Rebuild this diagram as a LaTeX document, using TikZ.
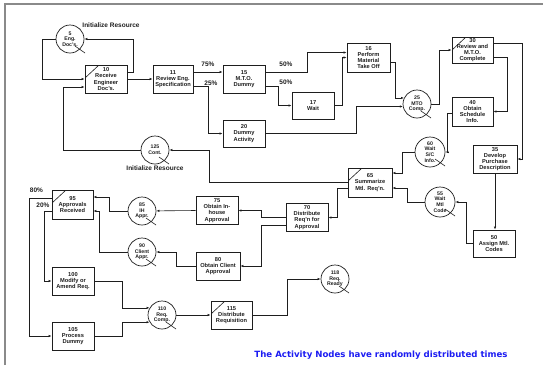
\documentclass[tikz,border=0pt]{standalone}
\usepackage{fontspec}
\setmainfont{Liberation Sans}
\newfontfamily\notefont{DejaVu Sans}
\usepackage{tikz}
\usetikzlibrary{positioning,arrows.meta,calc}
\definecolor{cInk}{HTML}{1E1E1E}
\definecolor{cFrame}{HTML}{8A8A8A}
\definecolor{cNote}{HTML}{1C1CF2}

\begin{document}
\begin{tikzpicture}[
  x=1pt, y=-1pt,
  font=\fontsize{5.7}{6.1}\selectfont\bfseries,
  >={Latex[length=3pt,width=2.4pt]},
  box/.style={draw=cInk, line width=0.7pt, align=center, inner sep=0pt,
              minimum width=42pt, minimum height=28pt, text=cInk},
  gate/.style={box, path picture={\draw[cInk, line width=0.6pt]
              ([yshift=-13pt]path picture bounding box.north west) --
              ([xshift=14pt]path picture bounding box.north west);}},
  qnode/.style={circle, draw=cInk, line width=0.7pt, align=center, inner sep=0pt,
              minimum size=28pt, text=cInk, font=\fontsize{5.2}{5.7}\selectfont\bfseries},
  flow/.style={->, draw=cInk, line width=0.6pt},
  slash/.style={draw=cInk, line width=0.6pt},
  pct/.style={font=\fontsize{6.5}{7}\selectfont\bfseries, text=cInk},
  tag/.style={font=\fontsize{6.5}{7}\selectfont\bfseries, text=cInk},
  note/.style={font=\notefont\fontsize{8.6}{9}\selectfont\bfseries, text=cNote},
]
\useasboundingbox (0,0) rectangle (543,365);
% ---- frame
\draw[cFrame, line width=2.2pt] (5,365) -- (5,4) -- (543,4);

% ---- engineering docs and specification
\node[qnode] (engdocs) at (70,39) {5\\Eng.\\Doc's.};
\node[tag] (initA) at (111,25) {Initialize Resource};
\node[gate] (receive) at (106,79) {10\\Receive\\Engineer\\Doc's.};
\node[box, minimum width=40pt] (spec) at (173,79) {11\\Review Eng.\\Specification};
\node[box] (mto) at (244,79) {15\\M.T.O.\\Dummy};
\node[box, minimum width=43pt, minimum height=29pt] (takeoff) at (368.5,57.5) {16\\Perform\\Material\\Take Off};
\node[box, minimum height=27pt] (waitact) at (313,105.5) {17\\Wait};
\node[box, minimum height=27pt] (dummy) at (244,133.5) {20\\Dummy\\Activity};
\node[qnode] (mtocomp) at (417,104) {25\\MTO\\Comp.};
\node[gate, minimum width=41pt, minimum height=26pt] (mtorev) at (472.5,50) {30\\Review and\\M.T.O.\\Complete};
\node[box, minimum width=41pt, minimum height=29pt] (sched) at (472.5,111.5) {40\\Obtain\\Schedule\\Info.};
\node[box, minimum width=44pt] (purch) at (495,159) {35\\Develop\\Purchase\\Description};
\node[box, minimum height=27pt] (codes) at (494,243.5) {50\\Assign Mtl.\\Codes};
\node[qnode, minimum size=30pt] (waitsc) at (430,152) {60\\Wait\\S/C\\Info.};
\node[qnode, minimum size=30pt] (waitcode) at (440,202) {55\\Wait\\Mtl\\Code};
\node[gate, minimum width=44pt, minimum height=29pt] (summ) at (370,182.5) {65\\Summarize\\Mtl. Req'n.};
\node[qnode] (cont) at (155,150) {125\\Cont.};
\node[tag] (initB) at (155,168) {Initialize Resource};

\node[pct] (p75) at (208,64.5) {75\%};
\node[pct] (p25) at (211,83) {25\%};
\node[pct] (p50a) at (286,64) {50\%};
\node[pct] (p50b) at (286,82) {50\%};

\draw[flow] (engdocs.west) -- ++(-13,0) |- (receive.west);
\draw[flow] ([yshift=7pt]receive.east) -- ++(6,0) |- (engdocs.east);
\draw[flow] (cont.west) -| ([xshift=-21pt,yshift=-8pt]receive.west) -- ([yshift=-8pt]receive.west);
\draw[flow] (receive) -- (spec);
\draw[flow] ([yshift=7pt]spec.east) -- ([yshift=7pt]mto.west);
\draw[flow] ([yshift=-7pt]spec.east) -- ++(15,0) |- (dummy.west);
\draw[flow] ([yshift=7pt]mto.east) -- ++(42,0) |- ([yshift=5pt]takeoff.west);
\draw[flow] ([yshift=-7pt]mto.east) -- ++(13,0) |- (waitact.west);
\draw[flow] (waitact.east) -- ++(8,0) |- (takeoff.west);
\draw[flow] ([yshift=-4.5pt]takeoff.east) -- ++(5,0) |- (mtocomp.155);
\draw[flow] (dummy.east) -- ++(91,0) |- (mtocomp.190);
\draw[flow] (mtocomp.east) -- ++(8,0) |- (mtorev.west);
\draw[flow] ([yshift=7pt]mtorev.east) -- ++(29,0) |- (purch.east);
\draw[flow] ([yshift=-7pt]mtorev.east) -- ++(14,0) |- (sched.east);
\draw[flow] ([yshift=-1.5pt]sched.west) -- ++(-4,0) |- (waitsc.east);
\draw[flow] (waitsc.west) -- ++(-12,0) |- ([yshift=9.5pt]summ.east);
\draw[flow] (waitcode.west) -- ++(-17,0) |- ([yshift=-5.5pt]summ.east);
\draw[flow] (purch.south) -- (purch.south |- codes.north);
\draw[flow] (codes.west) -- ++(-6,0) |- (waitcode.east);
\draw[flow] (summ.west) -- ++(-138,0) |- (cont.east);

% ---- approvals and requisition
\node[box] (distr) at (307,217.5) {70\\Distribute\\Req'n for\\Approval};
\node[box] (inhouse) at (217,210.5) {75\\Obtain In-\\house\\Approval};
\node[box, minimum width=44pt] (client) at (218,266) {80\\Obtain Client\\Approval};
\node[qnode] (ihappr) at (142,211) {85\\IH\\Appr.};
\node[qnode] (clappr) at (142,252) {90\\Client\\Appr.};
\node[gate, minimum width=41pt, minimum height=29pt] (approved) at (72.5,204.5) {95\\Approvals\\Received};
\node[box] (amend) at (73,281) {100\\Modify or\\Amend Req.};
\node[box] (procdum) at (73,336) {105\\Process\\Dummy};
\node[qnode] (reqcomp) at (162,315) {110\\Req.\\Comp.};
\node[gate, minimum width=41pt] (distreq) at (231.5,315) {115\\Distribute\\Requisition};
\node[qnode] (reqready) at (335,279) {118\\Req.\\Ready};

\node[pct] (p80) at (36.5,190.5) {80\%};
\node[pct] (p20) at (43,205) {20\%};

\draw[flow] ([yshift=-5.5pt]summ.west) -- ++(-10,0) |- (distr.east);
\draw[flow] (distr.west) -- ++(-24,0) |- (inhouse.east);
\draw[flow] ([yshift=-7.5pt]distr.west) -- ++(-24,0) |- (client.east);
\draw[flow] (inhouse.west) -- (ihappr);
\draw[flow] (ihappr.west) -- ++(-18,0) |- ([yshift=7.5pt]approved.east);
\draw[flow] (client.west) -- ++(-19,0) |- (clappr.east);
\draw[flow] (clappr.west) -- ++(-28,0) |- ([yshift=-6.5pt]approved.east);
\draw[flow] ([yshift=6.5pt]approved.west) -- ++(-22,0) |- (procdum.west);
\draw[flow] ([yshift=-6.5pt]approved.west) -- ++(-7,0) |- (amend.west);
\draw[flow] (amend.east) -- ++(28,0) |- (reqcomp.150);
\draw[flow] (procdum.east) -- ++(28,0) |- (reqcomp.210);
\draw[flow] (reqcomp) -- (distreq);
\draw[flow] (distreq.east) -- ++(35,0) |- (reqready.west);

% ---- wait marks on the queue nodes
\draw[slash] ($(engdocs)+(5,7)$) -- ++(10,7);
\draw[slash] ($(cont)+(4,7)$) -- ++(10,7);
\draw[slash] ($(mtocomp)+(4,7)$) -- ++(10,7);
\draw[slash] ($(waitsc)+(5,7)$) -- ++(10,7);
\draw[slash] ($(waitcode)+(5,7)$) -- ++(10,7);
\draw[slash] ($(ihappr)+(4,7)$) -- ++(10,7);
\draw[slash] ($(clappr)+(4,7)$) -- ++(10,7);
\draw[slash] ($(reqcomp)+(4,7)$) -- ++(10,7);
\draw[slash] ($(reqready)+(4,7)$) -- ++(10,7);

\node[note] (caption) at (381,355) {The Activity Nodes have randomly distributed times};
\end{tikzpicture}
\end{document}
